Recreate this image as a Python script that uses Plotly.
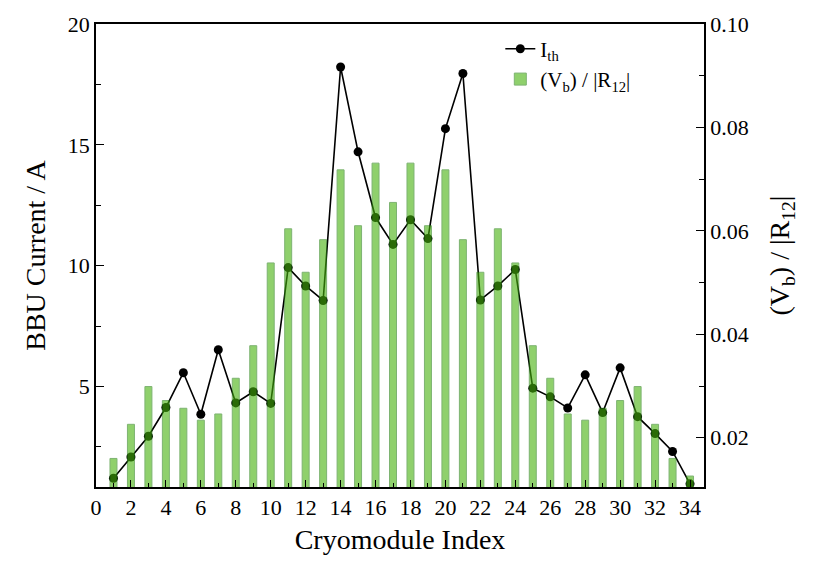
import plotly.graph_objects as go

idx = list(range(1, 35))
ith = [1.2, 2.08, 2.94, 4.13, 5.57, 3.85, 6.52, 4.32, 4.78, 4.3,
       9.92, 9.16, 8.56, 18.22, 14.71, 11.99, 10.88, 11.9, 11.12, 15.67,
       17.95, 8.58, 9.16, 9.84, 4.93, 4.57, 4.11, 5.48, 3.92, 5.77,
       3.75, 3.05, 2.31, 0.97]
ratio = [0.0160, 0.0226, 0.0299, 0.0272, 0.0257, 0.0234, 0.0246, 0.0315, 0.0378, 0.0538,
         0.0604, 0.0520, 0.0583, 0.0718, 0.0610, 0.0731, 0.0655, 0.0731, 0.0610, 0.0718,
         0.0583, 0.0520, 0.0604, 0.0538, 0.0378, 0.0315, 0.0246, 0.0234, 0.0257, 0.0272,
         0.0299, 0.0226, 0.0160, 0.0126]

x_ticks = list(range(0, 35, 2))
left_ticks = [5, 10, 15, 20]
right_ticks = [0.02, 0.04, 0.06, 0.08, 0.10]

FONT = "Times New Roman, Liberation Serif, serif"

fig = go.Figure()
fig.add_trace(go.Scatter(
    x=idx, y=ith, mode="lines+markers", name="I<sub>th</sub>",
    line=dict(color="black", width=1.6),
    marker=dict(color="black", size=9),
    yaxis="y"))
fig.add_trace(go.Bar(
    x=idx, y=ratio, name="(V<sub>b</sub>) / |R<sub>12</sub>|",
    width=0.4, yaxis="y2", opacity=0.6,
    marker=dict(color="rgb(70,178,12)", line=dict(color="rgb(40,130,20)", width=1))))

axis_common = dict(showgrid=False, zeroline=False, showline=True, linecolor="black",
                   linewidth=1.5, ticks="inside", tickcolor="black", tickwidth=1.2,
                   tickfont=dict(family=FONT, size=22, color="black"))

fig.update_layout(
    width=827, height=566,
    margin=dict(l=96, r=123, t=17, b=79),
    plot_bgcolor="white", paper_bgcolor="white",
    font=dict(family=FONT, color="black"),
    xaxis=dict(range=[0, 34.8], tickvals=x_ticks, ticklen=7, mirror=True,
               minor=dict(dtick=1, tick0=0, ticks="inside", ticklen=4, tickcolor="black"),
               title=dict(text="Cryomodule Index", font=dict(family=FONT, size=28), standoff=10),
               **axis_common),
    yaxis=dict(range=[0.84, 20], tickvals=left_ticks, ticklen=8,
               minor=dict(dtick=2.5, tick0=0, ticks="inside", ticklen=5, tickcolor="black"),
               title=dict(text="BBU Current / A", font=dict(family=FONT, size=28), standoff=14),
               **axis_common),
    yaxis2=dict(range=[0.01048, 0.10], tickvals=right_ticks, tickformat=".2f", ticklen=8,
                overlaying="y", side="right",
                minor=dict(dtick=0.01, tick0=0, ticks="inside", ticklen=5, tickcolor="black"),
                title=dict(text="(V<sub>b</sub>) / |R<sub>12</sub>|", font=dict(family=FONT, size=28), standoff=22),
                **axis_common),
    legend=dict(x=0.665, y=0.99, xanchor="left", yanchor="top", bgcolor="rgba(0,0,0,0)",
                font=dict(family=FONT, size=21), tracegroupgap=14),
    bargap=0.6, showlegend=True,
)

fig.write_html("out.html")
